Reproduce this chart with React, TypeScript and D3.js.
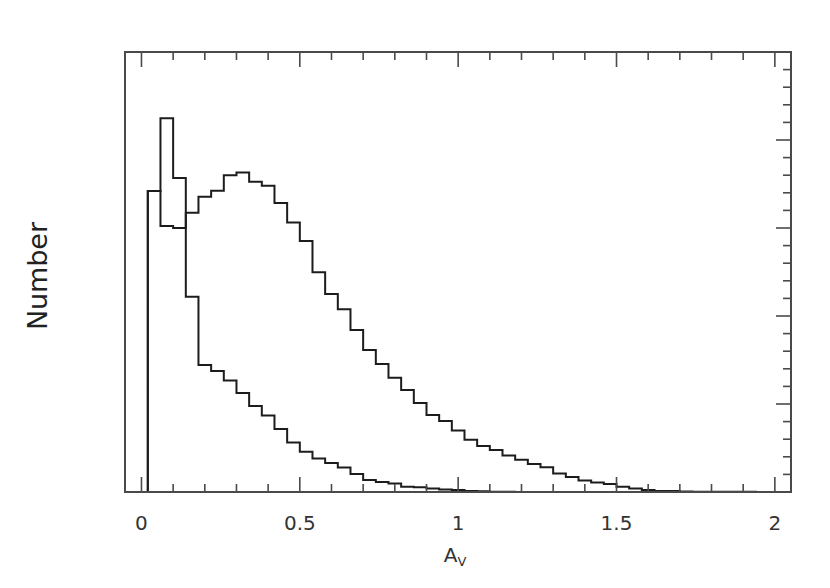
import React from "react";
import * as d3 from "d3";

const width = 830;
const height = 588;

// histogram bins: first left edge and bin width (in A_V)
const binStart = 0.02;
const binWidth = 0.04;

// full sample, one count per bin
const allCounts = [
  1710, 1511, 1500, 1586, 1677, 1711, 1800, 1816, 1763, 1740, 1642, 1531,
  1426, 1248, 1125, 1039, 920, 807, 727, 649, 579, 506, 437, 403, 349, 297,
  261, 239, 207, 183, 159, 140, 105, 85, 66, 54, 45, 30, 20, 11, 6, 5, 3, 2,
  2, 1, 1, 1, 0,
];

// second sample, same bins
const subsetCounts = [
  1710, 2124, 1784, 1109, 721, 687, 633, 562, 488, 435, 358, 281, 229, 191,
  165, 139, 102, 68, 57, 49, 30, 27, 20, 14, 11, 6, 4, 2, 1,
];

const xMajorTicks = [0, 0.5, 1, 1.5, 2];
const xTickLabels = ["0", "0.5", "1", "1.5", "2"];

const frame = { left: 125, right: 791, top: 52, bottom: 492 };

const x = d3.scaleLinear().domain([-0.052, 2.051]).range([frame.left, frame.right]);
const y = d3.scaleLinear().domain([0, 2500]).range([frame.bottom, frame.top]);

function stepPoints(counts: number[]): [number, number][] {
  const pts: [number, number][] = [[binStart, 0]];
  counts.forEach((c, i) => pts.push([binStart + i * binWidth, c]));
  const end = binStart + counts.length * binWidth;
  pts.push([end, counts[counts.length - 1]]);
  pts.push([end, 0]);
  return pts;
}

const stepLine = d3
  .line<[number, number]>()
  .x((d) => x(d[0]))
  .y((d) => y(d[1]))
  .curve(d3.curveStepAfter);

const App = () => {
  const xMinor = x.ticks(20);
  const yMinor = y.ticks(25);
  const yMajor = y.ticks(5);
  const minorLen = 8;
  const majorLen = 15;
  const axisColor = "#4a4a4a";

  return (
    <svg
      width={width}
      height={height}
      style={{ position: "absolute", left: 0, top: 0, background: "#fff" }}
      fontFamily="DejaVu Sans, sans-serif"
    >
      <defs>
        <clipPath id="plot">
          <rect
            x={frame.left}
            y={frame.top}
            width={frame.right - frame.left}
            height={frame.bottom - frame.top}
          />
        </clipPath>
      </defs>

      {/* histograms */}
      <g clipPath="url(#plot)" fill="none" stroke="#1c1c1c" strokeWidth={2}>
        <path d={stepLine(stepPoints(subsetCounts)) || ""} />
        <path d={stepLine(stepPoints(allCounts)) || ""} />
      </g>

      {/* bottom and top ticks */}
      <g stroke={axisColor} strokeWidth={1.6}>
        {xMinor.map((t) => {
          const len = xMajorTicks.includes(t) ? majorLen : minorLen;
          return (
            <g key={"xt" + t}>
              <line x1={x(t)} x2={x(t)} y1={frame.bottom} y2={frame.bottom - len} />
              <line x1={x(t)} x2={x(t)} y1={frame.top} y2={frame.top + len} />
            </g>
          );
        })}
        {/* right ticks only */}
        {yMinor.map((t) => {
          const len = yMajor.includes(t) ? majorLen : minorLen;
          return (
            <line key={"yt" + t} x1={frame.right} x2={frame.right - len} y1={y(t)} y2={y(t)} />
          );
        })}
      </g>

      {/* frame */}
      <rect
        x={frame.left}
        y={frame.top}
        width={frame.right - frame.left}
        height={frame.bottom - frame.top}
        fill="none"
        stroke={axisColor}
        strokeWidth={2}
      />

      {/* tick labels */}
      {xMajorTicks.map((t, i) => (
        <text
          key={"xl" + t}
          x={x(t)}
          y={530}
          textAnchor="middle"
          fontSize={20}
          fill="#333"
        >
          {xTickLabels[i]}
        </text>
      ))}

      {/* axis titles */}
      <text x={455} y={562} textAnchor="middle" fontSize={20} fill="#333">
        A
        <tspan fontSize={13} dy={4}>
          V
        </tspan>
      </text>
      <text
        transform="translate(47,276) rotate(-90)"
        textAnchor="middle"
        fontSize={27}
        fill="#222"
        textLength={108}
      >
        Number
      </text>
    </svg>
  );
};

export default App;
